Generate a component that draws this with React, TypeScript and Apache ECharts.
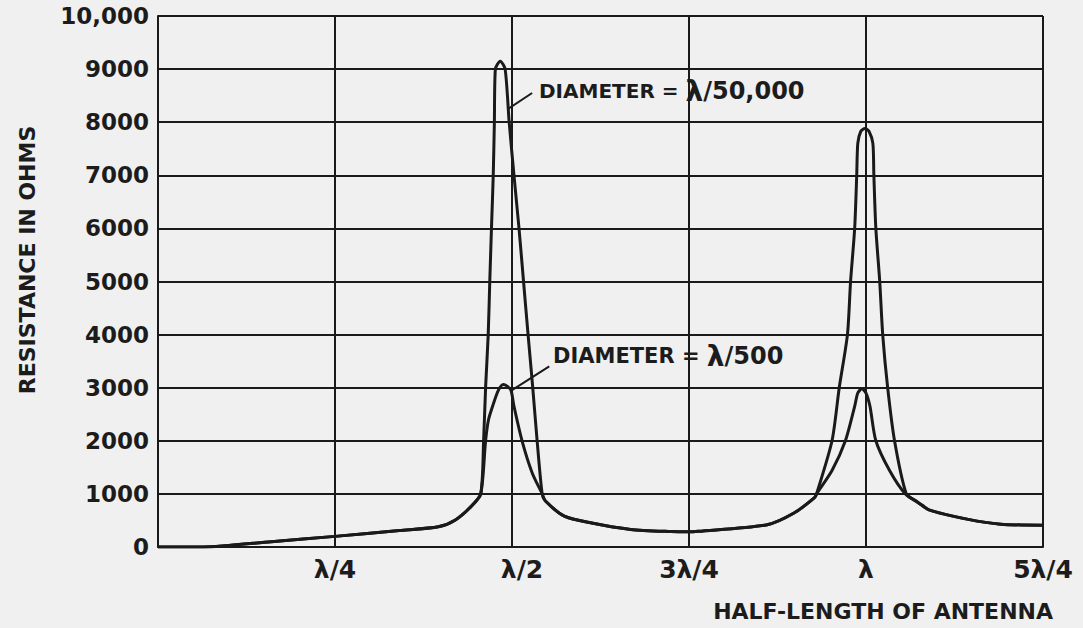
import React, { useEffect, useRef } from "react";
import * as echarts from "echarts";

// x in wavelengths (λ), y in ohms
const xTickLabels = ["", "λ/4", "λ/2", "3λ/4", "λ", "5λ/4"];
const yTickLabels = ["0", "1000", "2000", "3000", "4000", "5000", "6000", "7000", "8000", "9000", "10,000"];

// Diameter = λ/50,000
const thinCurve: [number, number][] = [
  [0.0, 0], [0.064, 0], [0.16, 100], [0.25, 200], [0.341, 310], [0.396, 380],
  [0.42, 510], [0.442, 760], [0.4558, 1000], [0.4599, 2000], [0.4627, 3000],
  [0.4664, 4000], [0.4686, 5000], [0.471, 6000], [0.4735, 7000], [0.4751, 8000],
  [0.4765, 9000], [0.4834, 9150], [0.4903, 9000], [0.496, 8000], [0.5028, 7000],
  [0.5099, 6000], [0.5163, 5000], [0.5227, 4000], [0.5293, 3000], [0.5355, 2000],
  [0.5426, 1000], [0.5469, 870], [0.5739, 580], [0.6108, 455], [0.6676, 330],
  [0.7244, 290], [0.75, 285], [0.7631, 295], [0.8605, 420], [0.8983, 640],
  [0.9273, 930], [0.9302, 1000], [0.952, 2000], [0.9622, 3000], [0.9738, 4000],
  [0.9782, 5000], [0.984, 6000], [0.9869, 7000], [0.9884, 7600], [0.9927, 7830],
  [0.9985, 7880], [1.0042, 7830], [1.0097, 7600], [1.0111, 7000], [1.0139, 6000],
  [1.0194, 5000], [1.0236, 4000], [1.0306, 3000], [1.0403, 2000], [1.0569, 1000],
  [1.0694, 880], [1.0889, 700], [1.1444, 520], [1.1903, 430], [1.25, 410],
];

// Diameter = λ/500
const thickCurve: [number, number][] = [
  [0.0, 0], [0.064, 0], [0.16, 100], [0.25, 200], [0.341, 310], [0.396, 380],
  [0.42, 510], [0.442, 760], [0.4558, 1000], [0.4627, 2000], [0.4669, 2400],
  [0.4738, 2700], [0.4807, 2950], [0.4876, 3060], [0.4931, 3030], [0.4986, 2950],
  [0.5028, 2650], [0.5142, 2000], [0.5284, 1400], [0.5426, 1000], [0.5469, 870],
  [0.5739, 580], [0.6108, 455], [0.6676, 330], [0.7244, 290], [0.75, 285],
  [0.7631, 295], [0.8605, 420], [0.8983, 640], [0.9273, 930], [0.9302, 1000],
  [0.952, 1440], [0.9709, 2000], [0.984, 2650], [0.9884, 2900], [0.9942, 2980],
  [1.0, 2900], [1.0056, 2650], [1.0139, 2000], [1.0333, 1440], [1.0556, 1000],
  [1.0792, 790], [1.0889, 700], [1.1444, 520], [1.1903, 430], [1.25, 410],
];

const thinArrow: [number, number][] = [[0.5284, 8550], [0.4945, 8250]];
const thickArrow: [number, number][] = [[0.5526, 3400], [0.4995, 2950]];

const yTitle = "RESISTANCE IN OHMS";
const xTitle = "HALF-LENGTH OF ANTENNA";
const thinNote = ["DIAMETER = ", "λ", "/50,000"];
const thickNote = ["DIAMETER = ", "λ", "/500"];

const FONT = "'DejaVu Sans', sans-serif";
const INK = "#1c1c1c";
const BG = "#f0f0f0";

function noteRich(aSize: number) {
  return {
    a: { fontSize: aSize, fontWeight: "bold", fontFamily: FONT, fill: INK },
    b: { fontSize: 28, fontWeight: "bold", fontFamily: FONT, fill: INK },
    c: { fontSize: 24, fontWeight: "bold", fontFamily: FONT, fill: INK },
  };
}

export default function App() {
  const ref = useRef<HTMLDivElement>(null);

  useEffect(() => {
    if (!ref.current) return;
    const chart = echarts.init(ref.current, null, { renderer: "svg" });

    const lineStyle = { color: "#1a1a1a", width: 3 };
    const arrowLine = (pts: [number, number][]) => ({
      silent: true,
      symbol: ["none", "arrow"],
      symbolSize: [0, 10],
      lineStyle: { color: "#1a1a1a", width: 2, type: "solid" },
      label: { show: false },
      emphasis: { disabled: true },
      data: [[{ coord: pts[0] }, { coord: pts[1] }]],
    });

    const labelText = { fontSize: 25, fontWeight: "bold", fontFamily: FONT, color: INK };

    chart.setOption({
      animation: false,
      backgroundColor: BG,
      grid: { left: 158, right: 40, top: 16, bottom: 81 },
      xAxis: {
        type: "value",
        min: 0,
        max: 1.25,
        interval: 0.25,
        axisLine: { show: true, lineStyle: { color: "#1a1a1a", width: 2 } },
        axisTick: { show: false },
        splitLine: { show: true, lineStyle: { color: "#1a1a1a", width: 2 } },
        axisLabel: {
          formatter: (v: number) => {
            const i = Math.round(v / 0.25);
            const t = xTickLabels[i] ?? "";
            if (!t) return "";
            return i === 2 ? `{s|${t}}` : `{n|${t}}`;
          },
          ...labelText,
          margin: 10,
          rich: {
            n: { ...labelText },
            s: { ...labelText, padding: [0, 0, 0, 20] },
          },
        },
      },
      yAxis: {
        type: "value",
        min: 0,
        max: 10000,
        interval: 1000,
        axisLine: { show: true, lineStyle: { color: "#1a1a1a", width: 2 } },
        axisTick: { show: false },
        splitLine: { show: true, lineStyle: { color: "#1a1a1a", width: 2 } },
        axisLabel: {
          formatter: (v: number) => yTickLabels[Math.round(v / 1000)] ?? "",
          fontSize: 23,
          fontWeight: "bold",
          fontFamily: FONT,
          color: INK,
          margin: 9,
          padding: [8, 0, 0, 0],
        },
      },
      series: [
        {
          name: "Diameter = λ/50,000",
          type: "line",
          data: thinCurve,
          showSymbol: false,
          smooth: 0.25,
          lineStyle,
          markLine: arrowLine(thinArrow),
        },
        {
          name: "Diameter = λ/500",
          type: "line",
          data: thickCurve,
          showSymbol: false,
          smooth: 0.25,
          lineStyle,
          markLine: arrowLine(thickArrow),
        },
      ],
      graphic: [
        {
          type: "text",
          x: 27,
          y: 260,
          rotation: Math.PI / 2,
          style: {
            text: yTitle,
            fontSize: 22,
            fontWeight: "bold",
            fontFamily: FONT,
            fill: INK,
            textAlign: "center",
            textVerticalAlign: "middle",
          },
        },
        {
          type: "text",
          x: 1053,
          y: 611,
          style: {
            text: xTitle,
            fontSize: 22,
            fontWeight: "bold",
            fontFamily: FONT,
            fill: INK,
            textAlign: "right",
            textVerticalAlign: "middle",
          },
        },
        {
          type: "text",
          x: 539,
          y: 91,
          style: {
            text: `{a|${thinNote[0]}}{b|${thinNote[1]}}{c|${thinNote[2]}}`,
            rich: noteRich(20),
            fill: INK,
            textAlign: "left",
            textVerticalAlign: "middle",
          },
        },
        {
          type: "text",
          x: 553,
          y: 356,
          style: {
            text: `{a|${thickNote[0]}}{b|${thickNote[1]}}{c|${thickNote[2]}}`,
            rich: noteRich(21),
            fill: INK,
            textAlign: "left",
            textVerticalAlign: "middle",
          },
        },
      ],
    });

    return () => chart.dispose();
  }, []);

  return (
    <div
      ref={ref}
      style={{ position: "fixed", left: 0, top: 0, width: 1083, height: 628, background: BG }}
    />
  );
}
